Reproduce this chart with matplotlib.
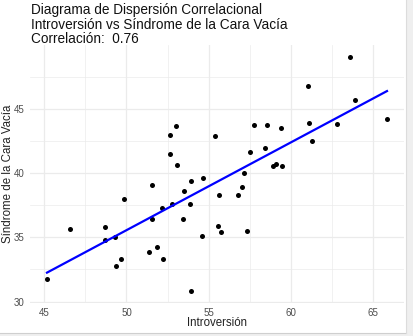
"""
Scatter plot: Introversión vs Síndrome de la Cara Vacía, with a linear fit.
"""

from __future__ import annotations

import matplotlib

matplotlib.use("Agg")
import matplotlib.pyplot as plt
import numpy as np
from matplotlib.patches import Rectangle
from matplotlib.ticker import MultipleLocator


# ---------------------------------------------------------------------------
# Data
# ---------------------------------------------------------------------------

introversion = [
    45.16, 46.56, 48.67, 48.67, 49.32, 49.38, 49.65, 49.87, 51.35, 51.53,
    51.57, 51.87, 52.18, 52.22, 52.63, 52.99, 52.66, 53.09, 52.77, 53.45,
    53.52, 53.84, 53.94, 53.91, 54.57, 54.67, 55.36, 55.55, 55.77, 55.64,
    56.80, 57.01, 57.15, 57.31, 57.49, 57.77, 58.44, 58.53, 58.89, 59.11,
    59.48, 59.40, 61.04, 61.12, 61.28, 62.80, 63.59, 63.94, 65.86,
]
sindrome = [
    31.78, 35.68, 35.84, 34.79, 35.07, 32.77, 33.30, 37.96, 33.85, 39.06,
    36.47, 34.27, 37.31, 33.35, 43.01, 43.67, 41.47, 40.63, 37.62, 36.47,
    38.61, 37.64, 39.43, 30.83, 35.15, 39.61, 42.87, 35.86, 35.39, 38.30,
    38.27, 38.90, 40.02, 35.50, 41.63, 43.75, 41.94, 43.75, 40.53, 40.71,
    40.53, 43.53, 46.83, 43.95, 42.49, 43.85, 49.06, 45.68, 44.24,
]

title_lines = [
    "Diagrama de Dispersión Correlacional",
    "Introversión vs Síndrome de la Cara Vacía",
    "Correlación:  0.76",
]

W, H = 414, 336
GRID = "#ebebeb"
TEXT = "#4d4d4d"


def main() -> None:
    plt.rcParams["font.family"] = ["Liberation Sans", "DejaVu Sans"]

    x = np.array(introversion)
    y = np.array(sindrome)
    slope, intercept = np.polyfit(x, y, 1)

    fig = plt.figure(figsize=(W / 100, H / 100), dpi=100)
    fig.patch.set_facecolor("white")

    # panel position in pixels: left, right, top, bottom
    left, right, top, bottom = 30, 404, 45.4, 302.6
    ax = fig.add_axes([left / W, 1 - bottom / H, (right - left) / W, (bottom - top) / H])
    ax.set_facecolor("white")

    ax.scatter(x, y, s=13, color="black", linewidths=0, zorder=3)
    xs = np.array([x.min(), x.max()])
    ax.plot(xs, intercept + slope * xs, color="#0000ff", linewidth=1.6, zorder=4)

    # ggplot-style 5% expansion
    xr = x.max() - x.min()
    yr = y.max() - y.min()
    ax.set_xlim(x.min() - 0.05 * xr, x.max() + 0.05 * xr)
    ax.set_ylim(y.min() - 0.05 * yr, y.max() + 0.05 * yr)

    ax.xaxis.set_major_locator(MultipleLocator(5))
    ax.xaxis.set_minor_locator(MultipleLocator(2.5))
    ax.yaxis.set_major_locator(MultipleLocator(5))
    ax.yaxis.set_minor_locator(MultipleLocator(2.5))
    ax.grid(which="major", color=GRID, linewidth=0.9)
    ax.grid(which="minor", color=GRID, linewidth=0.5)
    ax.set_axisbelow(True)
    for sp in ax.spines.values():
        sp.set_visible(False)
    ax.tick_params(which="both", length=0, labelsize=7, labelcolor=TEXT, pad=4)

    ax.set_xlabel("Introversión", fontsize=8.3, color="#222222")
    ax.set_ylabel("Síndrome de la Cara Vacía", fontsize=8.3, color="#222222")
    ax.xaxis.set_label_coords(0.5, -(323 - bottom) / (bottom - top), transform=ax.transAxes)
    ax.yaxis.set_label_coords(-(left - 8.5) / (right - left), 0.5, transform=ax.transAxes)
    ax.xaxis.label.set_va("center")
    ax.yaxis.label.set_va("center")

    fig.text(31 / W, 1 - 3 / H, "\n".join(title_lines), fontsize=9.8,
             color="#111111", va="top", ha="left", linespacing=1.05)

    # window edge on the right / bottom of the screenshot
    fig.patches.append(Rectangle((406 / W, 0), 8 / W, 1, transform=fig.transFigure,
                                 facecolor="#efefef", edgecolor="none"))
    fig.patches.append(Rectangle((0, 0), 1, 3 / H, transform=fig.transFigure,
                                 facecolor="#efefef", edgecolor="none"))
    fig.lines.append(plt.Line2D([0, 406 / W], [3 / H, 3 / H], transform=fig.transFigure,
                                color="#cfcfcf", linewidth=0.8))
    fig.lines.append(plt.Line2D([406 / W, 406 / W], [3 / H, 1], transform=fig.transFigure,
                                color="#dcdcdc", linewidth=0.8))

    fig.savefig("out.png", dpi=100)


if __name__ == "__main__":
    main()
